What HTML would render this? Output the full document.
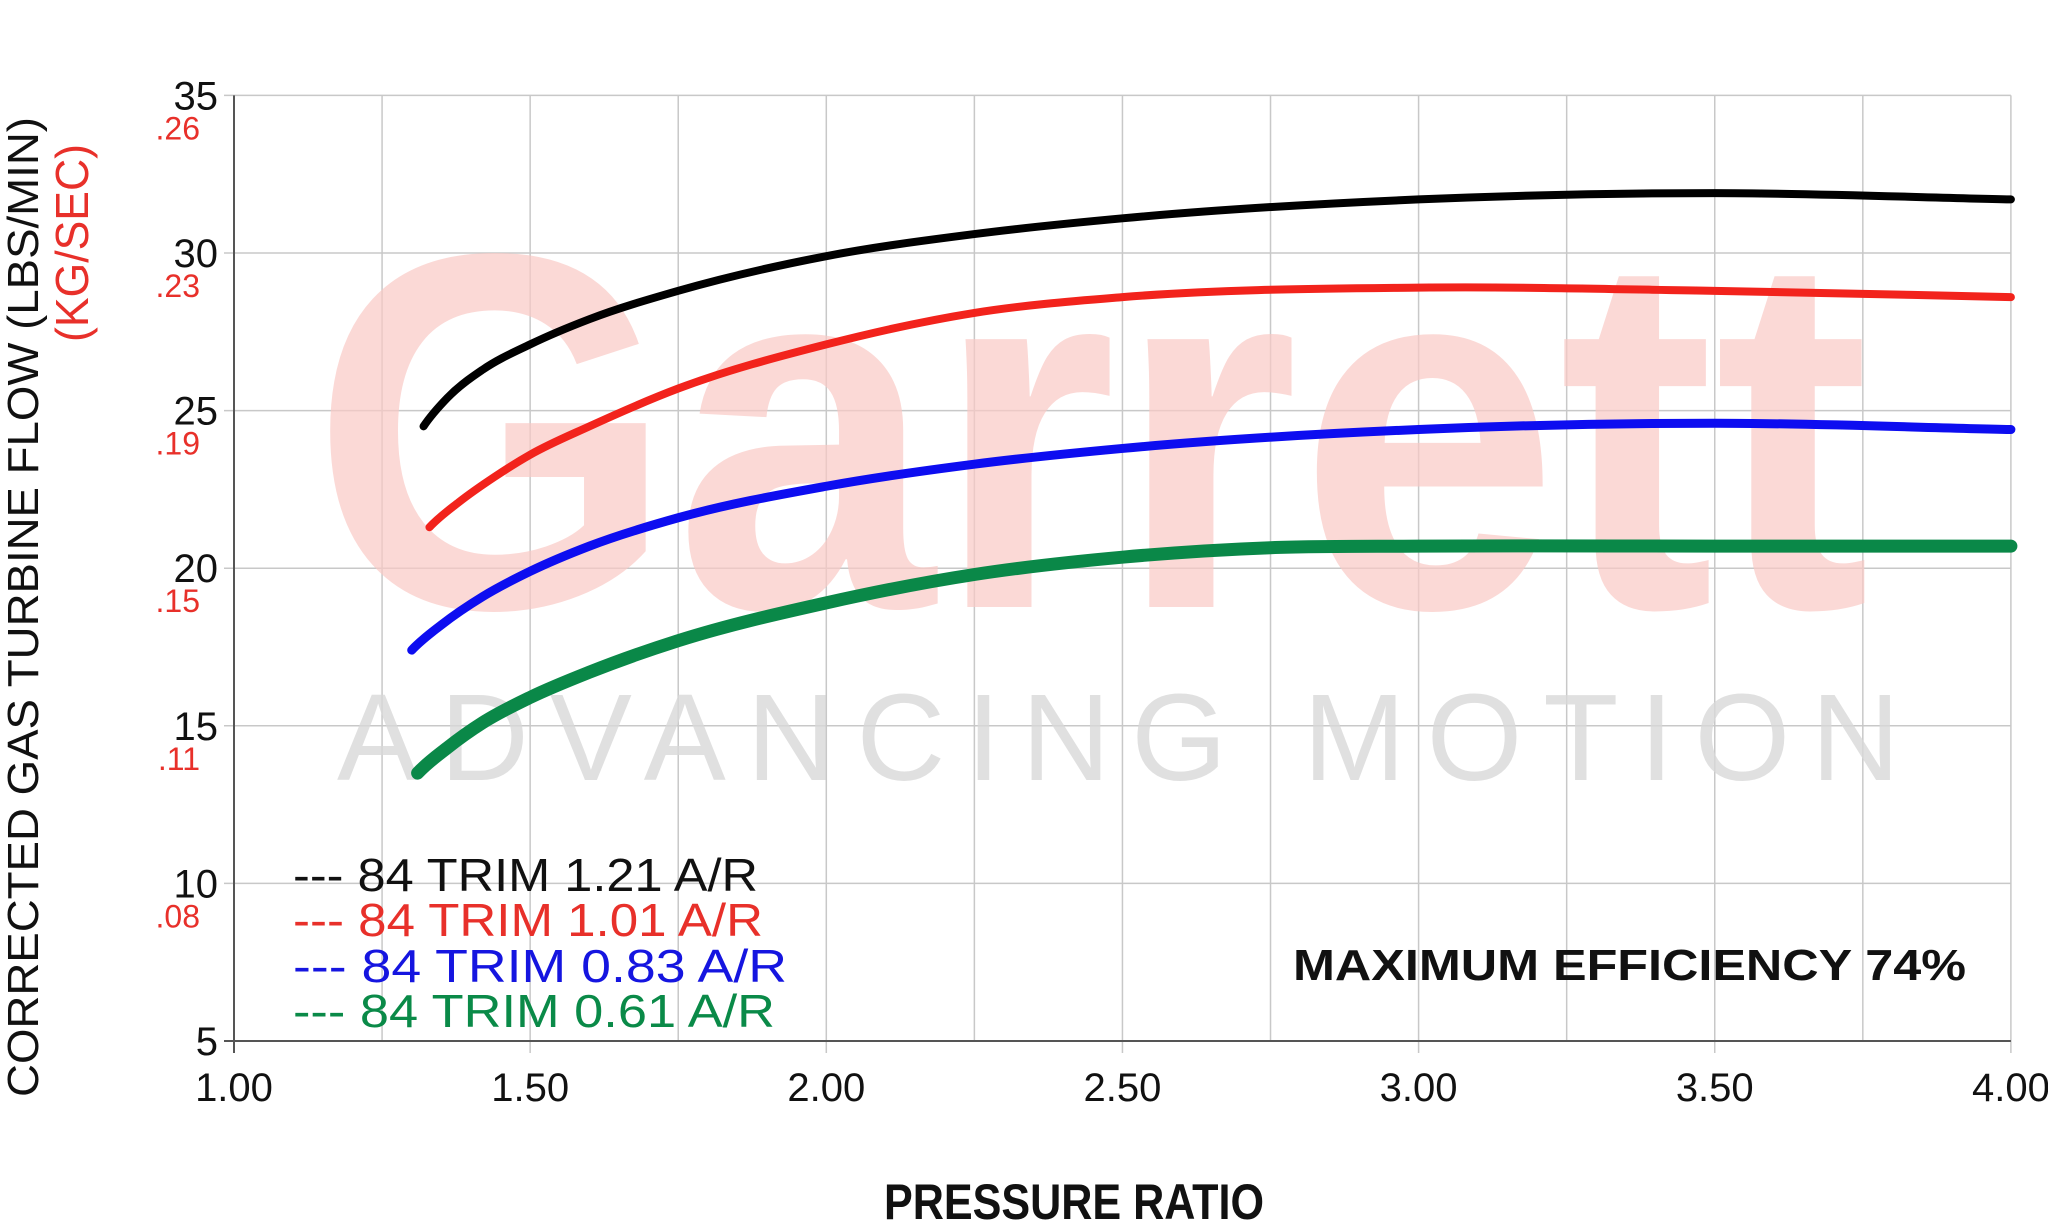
<!DOCTYPE html>
<html><head><meta charset="utf-8"><style>
html,body{margin:0;padding:0;background:#fff;}
svg{display:block;}
text{font-family:"Liberation Sans",sans-serif;}
</style></head><body>
<svg id="s" width="2048" height="1232" viewBox="0 0 2048 1232" xmlns="http://www.w3.org/2000/svg">
<rect width="2048" height="1232" fill="#fff"/>
<g id="grid" stroke="#c8c8c8" stroke-width="1.5"></g>
<text x="311" y="607" font-size="507" font-weight="bold" fill="#f9c9c5" fill-opacity="0.7" textLength="1559" lengthAdjust="spacingAndGlyphs">Garrett</text>
<text x="337" y="780" font-size="123" fill="#d8d8d8" fill-opacity="0.8" textLength="1563" lengthAdjust="spacing">ADVANCING MOTION</text>
<g id="axes" stroke="#555" stroke-width="2"></g>
<g id="curves" fill="none" stroke-linecap="round"></g>
<g font-size="40" fill="#111" text-anchor="end" id="ylab"></g>
<g font-size="40" fill="#111" text-anchor="middle" id="xlab"></g>
<g font-size="46">
<text x="293" y="891" fill="#111" textLength="465" lengthAdjust="spacingAndGlyphs">--- 84 TRIM 1.21 A/R</text>
<text x="293" y="936" fill="#e8302a" textLength="470" lengthAdjust="spacingAndGlyphs">--- 84 TRIM 1.01 A/R</text>
<text x="293" y="982" fill="#1515e0" textLength="494" lengthAdjust="spacingAndGlyphs">--- 84 TRIM 0.83 A/R</text>
<text x="293" y="1027" fill="#0a8a48" textLength="482" lengthAdjust="spacingAndGlyphs">--- 84 TRIM 0.61 A/R</text>
</g>
<text x="1293" y="980" font-size="44" font-weight="bold" fill="#111" textLength="673" lengthAdjust="spacingAndGlyphs">MAXIMUM EFFICIENCY  74%</text>
<text x="1074" y="1219" font-size="50" font-weight="bold" fill="#111" text-anchor="middle" textLength="380" lengthAdjust="spacingAndGlyphs">PRESSURE RATIO</text>
<text transform="translate(38,607) rotate(-90)" font-size="44" fill="#111" text-anchor="middle" textLength="980" lengthAdjust="spacingAndGlyphs">CORRECTED GAS TURBINE FLOW (LBS/MIN)</text>
<text transform="translate(88,243) rotate(-90)" font-size="46" fill="#e8302a" text-anchor="middle" textLength="198" lengthAdjust="spacingAndGlyphs">(KG/SEC)</text>
</svg>
<script>
var NS="http://www.w3.org/2000/svg";
function X(p){return 234+(p-1)*592.3;}
function Y(v){return 1041-(v-5)*31.52;}
function el(t,a,par,txt){var e=document.createElementNS(NS,t);for(var k in a)e.setAttribute(k,a[k]);if(txt)e.textContent=txt;document.getElementById(par).appendChild(e);return e;}
for(var p=1.25;p<=4.001;p+=0.25){el("line",{x1:X(p),x2:X(p),y1:Y(35),y2:Y(5)+(p%0.5==0?12:0)},"grid");}
for(var v=5;v<=35;v+=5){el("line",{x1:X(1)-10,x2:X(4),y1:Y(v),y2:Y(v)},"grid");}
el("line",{x1:X(1),x2:X(1),y1:Y(35),y2:Y(5)+12},"axes");
el("line",{x1:X(1)-10,x2:X(4),y1:Y(5),y2:Y(5)},"axes");
var kg={35:".26",30:".23",25:".19",20:".15",15:".11",10:".08"};
for(var v=5;v<=35;v+=5){el("text",{x:218,y:Y(v)+14},"ylab",""+v);if(kg[v])el("text",{x:200,y:Y(v)+44,"font-size":32,fill:"#e8302a"},"ylab",kg[v]);}
["1.00","1.50","2.00","2.50","3.00","3.50","4.00"].forEach(function(s){el("text",{x:X(+s),y:1101},"xlab",s);});
var series=[
["#000",8,[[1.32,24.5],[1.36,25.4],[1.42,26.3],[1.5,27.1],[1.6,27.9],[1.75,28.8],[2.0,29.9],[2.25,30.6],[2.5,31.1],[3.0,31.7],[3.5,31.9],[4.0,31.7]]],
["#f2231c",8,[[1.33,21.3],[1.38,22.1],[1.44,22.9],[1.5,23.6],[1.6,24.5],[1.75,25.7],[2.0,27.1],[2.25,28.1],[2.5,28.6],[3.0,28.9],[3.5,28.8],[4.0,28.6]]],
["#0d0df0",9,[[1.30,17.4],[1.35,18.2],[1.42,19.1],[1.5,19.9],[1.6,20.7],[1.75,21.6],[2.0,22.6],[2.25,23.3],[2.5,23.8],[3.0,24.4],[3.5,24.6],[4.0,24.4]]],
["#0a8848",13,[[1.31,13.5],[1.36,14.3],[1.42,15.1],[1.5,15.9],[1.6,16.7],[1.75,17.7],[2.0,18.9],[2.25,19.8],[2.5,20.35],[2.75,20.65],[3.0,20.7],[3.5,20.7],[4.0,20.7]]]
];
series.forEach(function(s){
 var pts=s[2].map(function(q){return [X(q[0]),Y(q[1])];});
 var n=pts.length,sec=[],m=[];
 for(var i=0;i<n-1;i++)sec.push((pts[i+1][1]-pts[i][1])/(pts[i+1][0]-pts[i][0]));
 m[0]=sec[0]*1.25;m[n-1]=sec[n-2];
 for(var i=1;i<n-1;i++){var h0=pts[i][0]-pts[i-1][0],h1=pts[i+1][0]-pts[i][0];m[i]=(sec[i-1]*h1+sec[i]*h0)/(h0+h1);}
 var d="M"+pts[0][0]+","+pts[0][1];
 for(var i=0;i<n-1;i++){var h=(pts[i+1][0]-pts[i][0])/3;
  d+=" C"+(pts[i][0]+h)+","+(pts[i][1]+m[i]*h)+" "+(pts[i+1][0]-h)+","+(pts[i+1][1]-m[i+1]*h)+" "+pts[i+1][0]+","+pts[i+1][1];}
 el("path",{d:d,stroke:s[0],"stroke-width":s[1]},"curves");
});
</script>
</body></html>
